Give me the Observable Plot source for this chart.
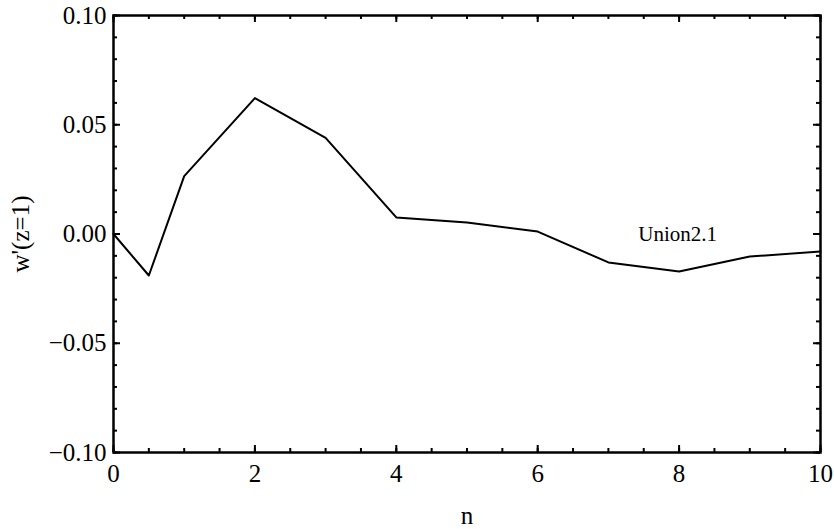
<!DOCTYPE html>
<html>
<head>
<meta charset="utf-8">
<script src="https://cdn.jsdelivr.net/npm/d3@7"></script>
<script src="https://cdn.jsdelivr.net/npm/@observablehq/plot@0.6"></script>
<style>
  html, body { margin: 0; padding: 0; background: #fff; }
  svg { display: block; }
</style>
</head>
<body>
<div id="chart"></div>
<script>
const nValues = [0, 0.5, 1, 2, 3, 4, 5, 6, 7, 8, 9, 10];
const wPrime = [0, -0.019, 0.0265, 0.0622, 0.044, 0.0076, 0.0053, 0.0011, -0.013, -0.0172, -0.0103, -0.008];
const xMajorTicks = [0, 2, 4, 6, 8, 10];
const xMinorTicks = d3.range(0, 10.001, 0.5);
const yMajorTicks = [-0.1, -0.05, 0, 0.05, 0.1];
const yMinorTicks = d3.range(-10, 11).map(d => d / 100);
const seriesLabel = "Union2.1";
const seriesLabelPos = {n: 7.98, w: 0.0};
const xLabel = "n";
const yLabel = "w'(z=1)";

const data = nValues.map((n, i) => ({n, w: wPrime[i]}));
const fmtY = d3.format(".2f");
const serif = "Times New Roman, Liberation Serif, DejaVu Serif, serif";

const W = 834, H = 529, mL = 113, mR = 14, mT = 15, mB = 77;
const innerW = W - mL - mR, innerH = H - mT - mB;
const minorLen = 4, majorLen = 7;

const chart = Plot.plot({
  width: W,
  height: H,
  marginLeft: mL,
  marginRight: mR,
  marginTop: mT,
  marginBottom: mB,
  style: {fontFamily: serif, fontSize: "25px", color: "#000", background: "#fff"},
  x: {domain: [0, 10], axis: null},
  y: {domain: [-0.1, 0.1], axis: null},
  marks: [
    Plot.tickX(xMinorTicks, {x: d => d, insetTop: innerH - minorLen, stroke: "#000", strokeWidth: 2}),
    Plot.tickX(xMinorTicks, {x: d => d, insetBottom: innerH - minorLen, stroke: "#000", strokeWidth: 2}),
    Plot.tickY(yMinorTicks, {y: d => d, insetRight: innerW - minorLen, stroke: "#000", strokeWidth: 2}),
    Plot.tickY(yMinorTicks, {y: d => d, insetLeft: innerW - minorLen, stroke: "#000", strokeWidth: 2}),
    Plot.tickX(xMajorTicks, {x: d => d, insetTop: innerH - majorLen, stroke: "#000", strokeWidth: 2}),
    Plot.tickX(xMajorTicks, {x: d => d, insetBottom: innerH - majorLen, stroke: "#000", strokeWidth: 2}),
    Plot.tickY(yMajorTicks, {y: d => d, insetRight: innerW - majorLen, stroke: "#000", strokeWidth: 2}),
    Plot.tickY(yMajorTicks, {y: d => d, insetLeft: innerW - majorLen, stroke: "#000", strokeWidth: 2}),
    Plot.text(xMajorTicks, {x: d => d, frameAnchor: "bottom", lineAnchor: "middle", dy: 21, text: d => String(d), fontSize: 25, fontFamily: serif, fill: "#000"}),
    Plot.text(yMajorTicks, {y: d => d, frameAnchor: "left", lineAnchor: "middle", dx: -7, textAnchor: "end", text: d => fmtY(d), fontSize: 25, fontFamily: serif, fill: "#000"}),
    Plot.frame({stroke: "#000", strokeWidth: 2.5}),
    Plot.line(data, {x: "n", y: "w", stroke: "#000", strokeWidth: 2}),
    Plot.text([seriesLabel], {x: () => seriesLabelPos.n, y: () => seriesLabelPos.w, text: d => d, fontSize: 21, fontFamily: serif, fill: "#000"}),
    Plot.text([xLabel], {frameAnchor: "bottom", lineAnchor: "middle", dy: 63, text: d => d, fontSize: 25, fontFamily: serif, fill: "#000"}),
    Plot.text([yLabel], {frameAnchor: "left", textAnchor: "middle", lineAnchor: "middle", dx: -93, rotate: -90, text: d => d, fontSize: 25, fontFamily: serif, fill: "#000"})
  ]
});
document.getElementById("chart").appendChild(chart);
</script>
</body>
</html>
